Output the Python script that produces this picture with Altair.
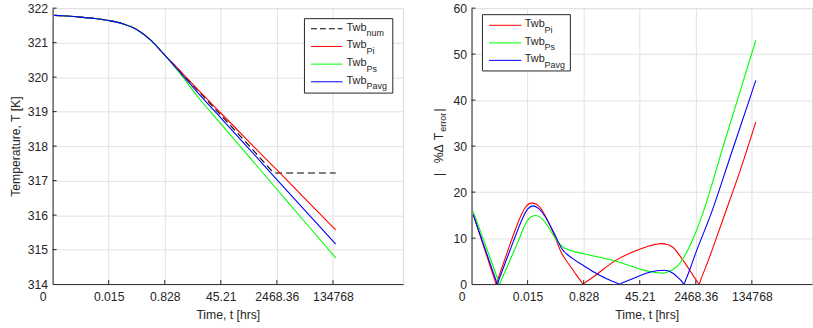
import json
import altair as alt
import pandas as pd

# ---- time axis: positions are log-spaced steps, labels are hours ----
tick_pos = [0, 1, 2, 3, 4, 5]
tick_lab = ["0", "0.015", "0.828", "45.21", "2468.36", "134768"]

# ---- wall temperature [K] ----
early_t = [0.03, 0.25, 0.5, 0.75, 1.0, 1.25, 1.5, 1.75, 2.0]
early_T = [321.79, 321.77, 321.74, 321.70, 321.64, 321.55, 321.38, 321.07, 320.64]

num_t = [2.3, 2.6, 3.0, 3.5, 3.8, 3.93, 4.0, 4.5, 5.05]
num_T = [320.12, 319.6, 318.9, 318.02, 317.48, 317.26, 317.22, 317.22, 317.22]

pi_t = [2.3, 2.6, 3.0, 3.5, 4.0, 4.5, 5.05]
pi_T = [320.14, 319.62, 318.96, 318.13, 317.31, 316.48, 315.57]

ps_t = [2.3, 2.6, 3.0, 3.5, 4.0, 4.5, 5.05]
ps_T = [320.05, 319.41, 318.65, 317.70, 316.75, 315.80, 314.76]

pavg_t = [2.3, 2.6, 3.0, 3.5, 4.0, 4.5, 5.05]
pavg_T = [320.09, 319.53, 318.82, 317.93, 317.03, 316.14, 315.16]

# ---- absolute percentage error ----
err_pi_t = [0.03, 0.2, 0.41, 0.44, 0.47, 0.6, 0.72, 0.85, 0.95, 1.07, 1.15, 1.25,
            1.35, 1.45, 1.5, 1.6, 1.7, 1.78, 1.87, 1.96, 1.99, 2.02, 2.2, 2.55,
            2.8, 3.0, 3.2, 3.38, 3.5, 3.6, 3.74, 3.85, 3.95, 4.03, 4.06, 4.09,
            4.2, 4.5, 4.8, 5.07]
err_pi = [15.1, 8.8, 1.1, 0.0, 1.05, 5.6, 9.8, 14.0, 16.5, 17.6, 17.4, 16.2,
          14.0, 11.4, 9.9, 6.9, 4.9, 3.6, 2.0, 0.5, 0.0, 0.26, 1.8, 5.0,
          6.6, 7.6, 8.4, 8.8, 8.6, 7.9, 5.75, 3.8, 1.9, 0.5, 0.0, 1.0,
          4.4, 14.6, 25.0, 35.2]

err_ps_t = [0.03, 0.2, 0.47, 0.5, 0.53, 0.72, 0.85, 0.95, 1.07, 1.15, 1.25, 1.35,
            1.45, 1.55, 1.65, 1.72, 1.85, 2.0, 2.3, 2.6, 2.8, 3.0, 3.2, 3.41,
            3.55, 3.68, 3.8, 3.95, 4.1, 4.5, 4.8, 5.07]
err_ps = [15.8, 10.1, 1.0, 0.0, 0.84, 6.1, 9.8, 12.8, 14.7, 14.9, 14.3, 12.8,
          10.8, 9.0, 7.9, 7.5, 7.0, 6.6, 5.8, 4.9, 4.1, 3.3, 2.7, 2.37,
          2.9, 4.0, 6.1, 9.8, 14.5, 30.4, 42.3, 53.0]

err_pavg_t = [0.03, 0.2, 0.43, 0.46, 0.49, 0.6, 0.75, 0.9, 1.0, 1.1, 1.2, 1.3,
              1.4, 1.5, 1.6, 1.8, 2.0, 2.2, 2.4, 2.55, 2.61, 2.64, 2.67, 2.75,
              2.9, 3.1, 3.3, 3.44, 3.6, 3.68, 3.76, 3.79, 3.82, 3.9, 4.0, 4.27,
              4.65, 4.94, 5.07]
err_pavg = [15.1, 9.1, 1.05, 0.0, 1.0, 4.6, 9.4, 14.0, 16.3, 17.0, 16.4, 14.9,
            12.8, 10.4, 7.9, 5.6, 4.0, 2.5, 1.2, 0.45, 0.15, 0.0, 0.15, 0.55,
            1.3, 2.3, 2.9, 3.0, 2.3, 1.45, 0.45, 0.0, 0.9, 3.4, 6.8, 15.2,
            29.0, 39.5, 44.3]

temp_ticks = [314, 315, 316, 317, 318, 319, 320, 321, 322]
err_ticks = [0, 10, 20, 30, 40, 50, 60]

# ---- styling ----
FONT = "Liberation Sans"
INK = "#262626"
GRID = "#e2e2e2"
RED, GREEN, BLUE, BLACK = "#ff0000", "#00ff00", "#0000ff", "#000000"
FS = 12.3      # axis labels and titles
LFS = 11       # legend text
SFS = 9        # legend subscripts
W1, W2, H = 353, 343, 278
TICK_LEN = 4


def x_axis(title_x=None):
    kw = dict(
        values=tick_pos,
        labelExpr=f"{json.dumps(tick_lab)}[datum.value]",
        title="Time, t [hrs]",
        ticks=False, tickSize=0,
        labelPadding=6.5, titlePadding=6,
        grid=True, gridColor=GRID,
        gridOpacity={"condition": {"test": "datum.value === 0", "value": 0}, "value": 1},
        labelOffset={"condition": {"test": "datum.value === 0", "value": -10}, "value": 0},
        domainColor=INK, labelColor=INK, titleColor=INK,
        labelFont=FONT, titleFont=FONT, labelFontSize=FS, titleFontSize=FS,
        titleFontWeight="normal", labelFlush=False, labelOverlap=False,
    )
    if title_x is not None:
        kw["titleX"] = title_x
    return alt.Axis(**kw)


def y_axis(values, bottom, title):
    kw = dict(
        values=values, ticks=False, tickSize=0, labelPadding=5,
        grid=True, gridColor=GRID,
        gridOpacity={"condition": {"test": f"datum.value === {bottom}", "value": 0}, "value": 1},
        domainColor=INK, labelColor=INK, titleColor=INK,
        labelFont=FONT, titleFont=FONT, labelFontSize=FS, titleFontSize=FS,
        titleFontWeight="normal", labelFlush=False, labelOverlap=False,
    )
    if title:
        kw["title"] = title
        kw["titlePadding"] = 5
    else:
        kw["title"] = None
    return alt.Axis(**kw)


one = pd.DataFrame({"k": [0]})


def text_at(s, x, y, size=FS, angle=0, align="left"):
    return alt.Chart(one).mark_text(
        text=s, font=FONT, fontSize=size, color=INK, align=align,
        baseline="middle", angle=angle,
    ).encode(x=alt.value(x), y=alt.value(y))


def legend(entries, box, line_x, text_x, sub_x, rows):
    layers = [
        alt.Chart(one).mark_rect(fill="white", stroke=INK, strokeWidth=1).encode(
            x=alt.value(box[0]), x2=alt.value(box[1]),
            y=alt.value(box[2]), y2=alt.value(box[3]))
    ]
    for (sub, color, dash), ry in zip(entries, rows):
        rule_kw = dict(color=color, strokeWidth=1)
        if dash:
            rule_kw["strokeDash"] = dash
        layers.append(alt.Chart(one).mark_rule(**rule_kw).encode(
            x=alt.value(line_x[0]), x2=alt.value(line_x[1]), y=alt.value(ry)))
        layers.append(text_at("Twb", text_x, ry - 1, size=LFS))
        layers.append(text_at(sub, sub_x, ry + 4.5, size=SFS))
    return layers


def panel(series, x_enc, y_enc, x_ticks, y_ticks, width, extra):
    layers = []
    for t, v, color, dash in series:
        kw = dict(color=color, strokeWidth=1.1, interpolate="monotone", clip=True)
        if dash:
            kw["strokeDash"] = dash
        layers.append(alt.Chart(pd.DataFrame({"t": t, "v": v})).mark_line(**kw)
                      .encode(x=x_enc, y=y_enc))
    # inward tick marks
    layers.append(alt.Chart(pd.DataFrame({"t": x_ticks})).mark_rule(color=INK)
                  .encode(x=x_enc, y=alt.value(H), y2=alt.value(H - TICK_LEN)))
    layers.append(alt.Chart(pd.DataFrame({"v": y_ticks})).mark_rule(color=INK)
                  .encode(y=y_enc, x=alt.value(0), x2=alt.value(TICK_LEN)))
    layers += extra
    return alt.layer(*layers).properties(width=width, height=H)


# ---- left panel: wall temperature ----
xl = alt.X("t:Q", scale=alt.Scale(domain=[0, 6.25], nice=False, zero=False), axis=x_axis())
yl = alt.Y("v:Q", scale=alt.Scale(domain=[314, 322], nice=False, zero=False),
           axis=y_axis(temp_ticks, 314, "Temperature, T [K]"))

left_series = [
    (early_t + num_t, early_T + num_T, BLACK, [7, 4]),
    (early_t + pi_t, early_T + pi_T, RED, None),
    (early_t + ps_t, early_T + ps_T, GREEN, None),
    (early_t + pavg_t, early_T + pavg_T, BLUE, None),
]
left_legend = legend(
    [("num", BLACK, [6, 3]), ("Pi", RED, None), ("Ps", GREEN, None), ("Pavg", BLUE, None)],
    box=(253.7, 342.7, 10.6, 85.6), line_x=(260.3, 292), text_x=296, sub_x=316.3,
    rows=[20.8, 38.6, 56.4, 74.2],
)
left = panel(left_series, xl, yl, tick_pos[1:], temp_ticks[1:], W1, left_legend)

# ---- right panel: absolute percentage error ----
xr = alt.X("t:Q", scale=alt.Scale(domain=[0, W2 / W1 * 6.25], nice=False, zero=False),
           axis=x_axis(title_x=W1 / 2))
yr = alt.Y("v:Q", scale=alt.Scale(domain=[0, 60], nice=False, zero=False),
           axis=y_axis(err_ticks, 0, None))

right_series = [
    (err_pi_t, err_pi, RED, None),
    (err_ps_t, err_ps, GREEN, None),
    (err_pavg_t, err_pavg, BLUE, None),
]
right_legend = legend(
    [("Pi", RED, None), ("Ps", GREEN, None), ("Pavg", BLUE, None)],
    box=(11, 99.6, 6.6, 63.3), line_x=(17.6, 50.3), text_x=53.6, sub_x=73.6,
    rows=[17.3, 35.0, 52.6],
)
# rotated y title with a subscript: | %Δ T_error |
ytitle = [
    text_at("|", -32.7, 167.5, angle=270, align="center"),
    text_at("%Δ", -32.7, 146.8, angle=270, align="center"),
    text_at("T", -32.7, 129.3, angle=270, align="center"),
    text_at("error", -28.7, 115.0, size=9, angle=270, align="center"),
    text_at("|", -32.7, 102.5, angle=270, align="center"),
]
right = panel(right_series, xr, yr, tick_pos[1:], err_ticks[1:], W2, right_legend + ytitle)

chart = (
    alt.hconcat(left, right, spacing=28)
    .properties(padding={"left": 8, "top": 0, "right": 0, "bottom": 0})
    .configure_view(stroke=None)
    .configure(background="white")
)

chart.save("out.html", embed_options={"renderer": "svg", "actions": False})
